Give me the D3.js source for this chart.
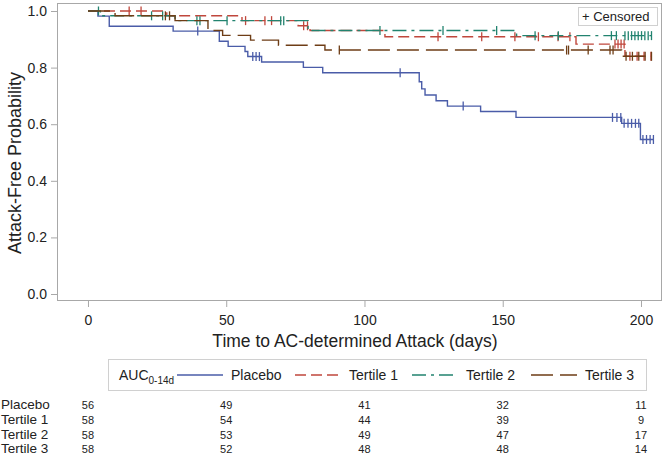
<!DOCTYPE html>
<html><head><meta charset="utf-8">
<script src="https://cdn.jsdelivr.net/npm/d3@7"></script>
<style>
body{margin:0;background:#fff;}
svg{display:block;font-family:"Liberation Sans",Arial,Helvetica,sans-serif;}
</style>
</head><body>
<svg id="chart" width="665" height="456"></svg>
<script>
// ---------------- DATA ----------------
const groupNames = ["Placebo", "Tertile 1", "Tertile 2", "Tertile 3"];

const placeboEventTimes = [3.6, 7.7, 30.8, 47.5, 50.7, 56.8, 57.8, 62.8, 77.9, 84.9, 119.8, 120.7, 121.9, 125.9, 130.0, 142.0, 154.8, 193.0, 199.8];
const placeboSurvival   = [0.982, 0.946, 0.929, 0.893, 0.875, 0.857, 0.839, 0.820, 0.801, 0.782, 0.750, 0.725, 0.703, 0.683, 0.664, 0.645, 0.624, 0.603, 0.546];
const placeboCensorTimes = [39.7, 59.6, 60.8, 62.0, 112.9, 135.7, 189.7, 191.3, 192.7, 193.9, 195.3, 196.6, 198.0, 199.2, 200.7, 202.0, 203.3, 204.5];

const tertile1EventTimes = [28.5, 55.7, 76.0, 80.3, 107.4, 176.5, 194.2];
const tertile1Survival   = [0.983, 0.966, 0.948, 0.931, 0.909, 0.883, 0.840];
const tertile1CensorTimes = [14.9, 19.2, 57.0, 64.0, 66.4, 78.0, 79.4, 126.6, 142.4, 154.4, 162.9, 170.0, 174.3, 190.6, 191.7, 192.8, 193.9, 196.0, 198.6, 201.1, 203.6];

const tertile2EventTimes = [4.5, 31.5, 79.6, 155.0];
const tertile2Survival   = [0.983, 0.966, 0.931, 0.913];
const tertile2CensorTimes = [3.8, 23.0, 27.0, 39.4, 40.5, 50.3, 69.7, 70.8, 105.6, 128.4, 147.8, 161.7, 170.1, 189.3, 191.1, 194.2, 195.4, 196.6, 197.8, 199.0, 200.2, 201.4, 202.6, 203.8];

const tertile3EventTimes = [9.8, 31.5, 43.4, 48.7, 58.8, 68.9, 85.7, 193.0];
const tertile3Survival   = [0.983, 0.966, 0.931, 0.914, 0.897, 0.879, 0.862, 0.840];
const tertile3CensorTimes = [28.0, 29.5, 90.9, 173.1, 173.8, 180.9, 188.8, 189.9, 194.6, 196.9, 199.2, 201.5, 203.8];

const xTickValues = [0, 50, 100, 150, 200];
const yTickValues = [0.0, 0.2, 0.4, 0.6, 0.8, 1.0];

const riskTimes = [0, 50, 100, 150, 200];
const riskPlacebo  = [56, 49, 41, 32, 11];
const riskTertile1 = [58, 54, 44, 39, 9];
const riskTertile2 = [58, 53, 49, 47, 17];
const riskTertile3 = [58, 52, 48, 48, 14];

// ---------------- STYLE ----------------
const seriesColors = ["#4a5ca8", "#c0473c", "#22836f", "#6e3d16"];
const seriesDash   = [null, "11,5", "14,5,3,5", "22,7"];

const series = [
  {name: groupNames[0], ev: placeboEventTimes,  s: placeboSurvival,  c: placeboCensorTimes},
  {name: groupNames[1], ev: tertile1EventTimes, s: tertile1Survival, c: tertile1CensorTimes},
  {name: groupNames[2], ev: tertile2EventTimes, s: tertile2Survival, c: tertile2CensorTimes},
  {name: groupNames[3], ev: tertile3EventTimes, s: tertile3Survival, c: tertile3CensorTimes}
];
const riskRows = [riskPlacebo, riskTertile1, riskTertile2, riskTertile3];

const svg = d3.select("#chart");
const L = 57, R = 662, T = 3, B = 301;
const x = d3.scaleLinear().domain([-11.2, 207.6]).range([L, R]);
const y = d3.scaleLinear().domain([-0.0247, 1.0283]).range([B, T]);
const frameColor = "#a8a8a8";
const textColor = "#222";

// frame
svg.append("rect").attr("x", L + 0.5).attr("y", T + 0.5).attr("width", R - L - 1).attr("height", B - T - 1)
  .attr("fill", "none").attr("stroke", frameColor).attr("stroke-width", 1);

// axes
const xAxis = svg.append("g").attr("transform", `translate(0,${B})`)
  .call(d3.axisBottom(x).tickValues(xTickValues).tickSize(6).tickPadding(8).tickFormat(d3.format("d")));
const yAxis = svg.append("g").attr("transform", `translate(${L},0)`)
  .call(d3.axisLeft(y).tickValues(yTickValues).tickSize(6).tickPadding(4).tickFormat(d3.format(".1f")));
[xAxis, yAxis].forEach(g => {
  g.select(".domain").remove();
  g.selectAll(".tick line").attr("stroke", frameColor);
  g.selectAll(".tick text").attr("fill", textColor).style("font-size", "14px").style("font-family", '"Liberation Sans", Arial, sans-serif');
});

// axis titles
svg.append("text").attr("x", 355).attr("y", 347).attr("text-anchor", "middle")
  .style("font-size", "17.5px").attr("fill", textColor).text("Time to AC-determined Attack (days)");
svg.append("text").attr("transform", `translate(21,163) rotate(-90)`).attr("text-anchor", "middle")
  .style("font-size", "18px").attr("fill", textColor).text("Attack-Free Probability");

// KM curves
const line = d3.line().x(d => x(d[0])).y(d => y(d[1])).curve(d3.curveStepAfter);
function survAt(sr, t) {
  let v = 1;
  sr.ev.forEach((e, i) => { if (e <= t) v = sr.s[i]; });
  return v;
}
const curves = svg.append("g");
series.forEach((sr, k) => {
  const endT = Math.max(d3.max(sr.c), d3.max(sr.ev));
  const pts = [[0, 1]].concat(sr.ev.map((t, i) => [t, sr.s[i]]));
  pts.push([endT, sr.s[sr.s.length - 1]]);
  const g = curves.append("g");
  g.append("path").attr("d", line(pts)).attr("fill", "none")
    .attr("stroke", seriesColors[k]).attr("stroke-width", 1.4)
    .attr("stroke-dasharray", seriesDash[k]);
  g.selectAll("line.cens").data(sr.c).join("line").attr("class", "cens")
    .attr("x1", d => x(d)).attr("x2", d => x(d))
    .attr("y1", d => y(survAt(sr, d)) - 4.5).attr("y2", d => y(survAt(sr, d)) + 4.5)
    .attr("stroke", seriesColors[k]).attr("stroke-width", 1.3);
});

// Censored legend
const cg = svg.append("g");
cg.append("rect").attr("x", 578.5).attr("y", 7.5).attr("width", 79).attr("height", 18)
  .attr("fill", "#fff").attr("stroke", "#d0d0d0");
cg.append("text").attr("x", 582).attr("y", 21).style("font-size", "13px").attr("fill", textColor).text("+ Censored");

// bottom legend
const lg = svg.append("g");
lg.append("rect").attr("x", 108.5).attr("y", 359.5).attr("width", 538).attr("height", 31)
  .attr("fill", "#fff").attr("stroke", "#d0d0d0");
const auc = lg.append("text").attr("x", 119).attr("y", 380).style("font-size", "14px").attr("fill", textColor);
auc.append("tspan").text("AUC");
auc.append("tspan").attr("dy", 4).style("font-size", "10px").text("0-14d");
const legX = [177, 295, 412, 531];
groupNames.forEach((n, k) => {
  lg.append("line").attr("x1", legX[k]).attr("x2", legX[k] + 46).attr("y1", 375).attr("y2", 375)
    .attr("stroke", seriesColors[k]).attr("stroke-width", 1.4).attr("stroke-dasharray", seriesDash[k]);
  lg.append("text").attr("x", legX[k] + 54).attr("y", 380).style("font-size", "14px").attr("fill", textColor).text(n);
});

// at-risk table
const rowY = [409, 424, 439, 453];
groupNames.forEach((n, k) => {
  svg.append("text").attr("x", 1).attr("y", rowY[k]).style("font-size", "13.5px").attr("fill", textColor).text(n);
  riskRows[k].forEach((v, j) => {
    svg.append("text").attr("x", x(riskTimes[j])).attr("y", rowY[k]).attr("text-anchor", "middle")
      .style("font-size", "11px").attr("fill", textColor).text(v);
  });
});
</script>
</body></html>
